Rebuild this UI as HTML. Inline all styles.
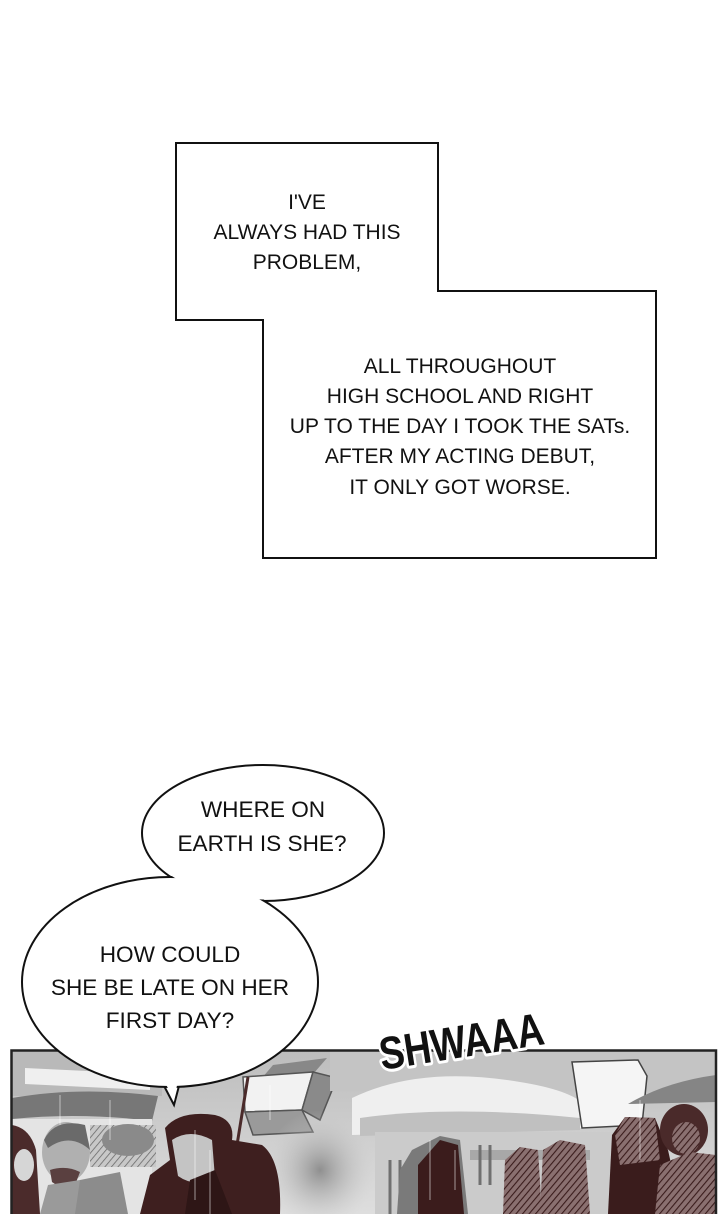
<!DOCTYPE html>
<html><head><meta charset="utf-8"><style>
html,body{margin:0;padding:0;background:#fff;}
svg{display:block;}
</style></head><body>
<svg width="720" height="1214" viewBox="0 0 720 1214" xmlns="http://www.w3.org/2000/svg">
<defs>
<pattern id="hatch" width="5" height="5" patternUnits="userSpaceOnUse" patternTransform="rotate(40)">
<rect width="5" height="5" fill="#8a7070"/><line x1="0" y1="0" x2="0" y2="5" stroke="#3a1c1c" stroke-width="2.2"/>
</pattern>
<pattern id="hatchg" width="5" height="5" patternUnits="userSpaceOnUse" patternTransform="rotate(40)">
<rect width="5" height="5" fill="#c8c8c8"/><line x1="0" y1="0" x2="0" y2="5" stroke="#6a6a6a" stroke-width="1.6"/>
</pattern>
<linearGradient id="sky" x1="0" y1="0" x2="0" y2="1"><stop offset="0" stop-color="#bdbdbd"/><stop offset="1" stop-color="#dedede"/></linearGradient>
<radialGradient id="mist" cx="0.5" cy="0.5" r="0.5"><stop offset="0" stop-color="#8f8f8f"/><stop offset="1" stop-color="#cfcfcf" stop-opacity="0"/></radialGradient>
<clipPath id="pc"><rect x="12" y="1051" width="704" height="163"/></clipPath>
</defs>

<!-- caption box -->
<polygon points="176,143 438,143 438,291 656,291 656,558 263,558 263,320 176,320" fill="#fff" stroke="#111" stroke-width="2"/>
<g font-family="'Liberation Sans', sans-serif" font-size="21" fill="#111" text-anchor="middle">
<text x="307" y="209">I'VE</text>
<text x="307" y="239">ALWAYS HAD THIS</text>
<text x="307" y="269">PROBLEM,</text>
<text x="460" y="373">ALL THROUGHOUT</text>
<text x="460" y="403">HIGH SCHOOL AND RIGHT</text>
<text x="460" y="433">UP TO THE DAY I TOOK THE SATs.</text>
<text x="460" y="463">AFTER MY ACTING DEBUT,</text>
<text x="460" y="494">IT ONLY GOT WORSE.</text>
</g>

<!-- panel -->
<g clip-path="url(#pc)">
<rect x="12" y="1051" width="704" height="163" fill="url(#sky)"/>
<!-- left top -->
<rect x="12" y="1051" width="150" height="45" fill="#b9b9b9"/>
<polygon points="25,1068 150,1074 150,1090 25,1084" fill="#efefef"/>
<path d="M12,1098 Q80,1086 158,1096 L152,1121 Q80,1112 12,1119 Z" fill="#777"/>
<rect x="12" y="1119" width="140" height="95" fill="#e4e4e4"/>
<!-- woman -->
<path d="M12,1125 Q30,1128 36,1150 L40,1214 L12,1214 Z" fill="#4b2b2b"/>
<ellipse cx="24" cy="1165" rx="10" ry="16" fill="#d6d6d6"/>
<!-- man -->
<ellipse cx="66" cy="1152" rx="24" ry="30" fill="#b0b0b0"/>
<path d="M44,1140 Q55,1118 85,1125 L90,1150 Q70,1132 48,1148 Z" fill="#6a6a6a"/>
<path d="M50,1170 Q66,1165 80,1172 L75,1185 Q62,1190 52,1182 Z" fill="#5a4040"/>
<path d="M40,1214 L48,1185 L80,1180 L88,1214 Z" fill="#9a9a9a"/>
<path d="M75,1214 L80,1180 L120,1172 L128,1214 Z" fill="#8c8c8c"/>
<rect x="90" y="1125" width="66" height="42" fill="url(#hatchg)"/>
<ellipse cx="128" cy="1140" rx="26" ry="16" fill="#8a8a8a"/>
<!-- box structure -->
<polygon points="273,1065 327,1058 314,1073 262,1078" fill="#888"/>
<polygon points="243,1077 313,1072 302,1110 245,1112" fill="#f2f2f2" stroke="#555" stroke-width="1.5"/>
<polygon points="313,1072 337,1078 320,1120 302,1110" fill="#8a8a8a" stroke="#555" stroke-width="1.5"/>
<polygon points="245,1112 302,1110 313,1132 253,1135" fill="#9a9a9a" stroke="#555" stroke-width="1.5"/>
<line x1="248" y1="1077" x2="237" y2="1145" stroke="#4a2a2a" stroke-width="3"/>
<!-- mist -->
<ellipse cx="320" cy="1170" rx="55" ry="60" fill="url(#mist)"/>
<!-- main guy -->
<path d="M140,1214 L150,1175 L170,1160 L165,1128 Q180,1110 215,1115 Q235,1120 232,1140 L262,1145 Q282,1160 280,1214 Z" fill="#3e1f1f"/>
<path d="M172,1140 Q190,1128 212,1140 L215,1178 Q195,1188 178,1176 Z" fill="#c4c4c4"/>
<path d="M190,1180 L215,1170 L232,1214 L185,1214 Z" fill="#2e1616"/>
<!-- right top band -->
<rect x="330" y="1051" width="386" height="40" fill="#c4c4c4"/>
<!-- awning -->
<path d="M352,1098 Q420,1065 520,1082 Q570,1090 585,1105 L585,1128 L352,1135 Z" fill="#efefef"/>
<path d="M360,1118 Q450,1105 580,1118 L580,1130 L360,1136 Z" fill="#c0c0c0"/>
<!-- building -->
<rect x="375" y="1132" width="240" height="82" fill="#cbcbcb"/>
<rect x="470" y="1150" width="120" height="10" fill="#a8a8a8"/>
<g stroke="#707070" stroke-width="3">
<line x1="390" y1="1160" x2="390" y2="1214"/><line x1="400" y1="1160" x2="400" y2="1214"/>
<line x1="480" y1="1145" x2="480" y2="1185"/><line x1="490" y1="1145" x2="490" y2="1185"/>
</g>
<!-- sign -->
<polygon points="572,1062 638,1060 647,1076 642,1125 582,1128" fill="#f5f5f5" stroke="#444" stroke-width="1.5"/>
<!-- right umbrella -->
<path d="M628,1104 Q665,1082 716,1075 L716,1102 Z" fill="#858585"/>
<!-- hooded figure -->
<path d="M397,1214 L400,1170 L412,1150 L440,1136 L460,1140 L468,1214 Z" fill="#7a7a7a"/>
<path d="M418,1214 L418,1165 L440,1140 L458,1145 L464,1214 Z" fill="#3b1c1c"/>
<!-- hatched figures -->
<path d="M503,1214 L505,1160 L520,1147 L538,1150 L542,1214 Z" fill="url(#hatch)"/>
<path d="M540,1214 L543,1150 L560,1140 L585,1145 L590,1214 Z" fill="url(#hatch)"/>
<!-- dark figure right -->
<path d="M608,1214 L612,1135 L625,1117 L655,1118 L668,1150 L682,1214 Z" fill="#3a1c1c"/>
<path d="M615,1135 L625,1117 L655,1118 L660,1160 L620,1165 Z" fill="url(#hatch)"/>
<!-- right person -->
<ellipse cx="684" cy="1130" rx="24" ry="26" fill="#4a2a2a"/>
<ellipse cx="686" cy="1138" rx="14" ry="16" fill="url(#hatch)"/>
<path d="M655,1214 L660,1165 L690,1152 L716,1155 L716,1214 Z" fill="url(#hatch)"/>
<!-- rain -->
<g stroke="#fff" stroke-opacity="0.55" stroke-width="1">
<line x1="60" y1="1095" x2="60" y2="1125"/><line x1="110" y1="1100" x2="110" y2="1140"/>
<line x1="195" y1="1130" x2="195" y2="1200"/><line x1="210" y1="1150" x2="210" y2="1214"/>
<line x1="270" y1="1085" x2="270" y2="1120"/><line x1="430" y1="1140" x2="430" y2="1200"/>
<line x1="455" y1="1150" x2="455" y2="1190"/><line x1="640" y1="1100" x2="640" y2="1160"/>
</g>
</g>
<!-- panel border -->
<rect x="11.5" y="1050.5" width="704.5" height="170" fill="none" stroke="#222" stroke-width="2.5"/>

<!-- bubbles -->
<g stroke="#111" stroke-width="2" fill="#fff">
<ellipse cx="263" cy="833" rx="121" ry="68"/>
<path d="M162,1082 L174,1105 L180,1082 Z"/>
<ellipse cx="170" cy="982" rx="148" ry="105"/>
</g>
<ellipse cx="263" cy="833" rx="119.5" ry="66.5" fill="#fff"/>
<path d="M164,1080 L174,1101 L178,1080 Z" fill="#fff"/>
<g font-family="'Liberation Sans', sans-serif" font-size="22.6" fill="#111" text-anchor="middle">
<text x="263" y="817">WHERE ON</text>
<text x="262" y="851">EARTH IS SHE?</text>
<text x="170" y="962">HOW COULD</text>
<text x="170" y="995">SHE BE LATE ON HER</text>
<text x="170" y="1028">FIRST DAY?</text>
</g>

<!-- SFX -->
<text x="382" y="1070" transform="rotate(-9 382 1070)" font-family="'Liberation Sans', sans-serif" font-weight="bold" font-size="46" fill="#111" stroke="#fff" stroke-width="6" paint-order="stroke" stroke-linejoin="round" textLength="166" lengthAdjust="spacingAndGlyphs">SHWAAA</text>
</svg>
</body></html>
